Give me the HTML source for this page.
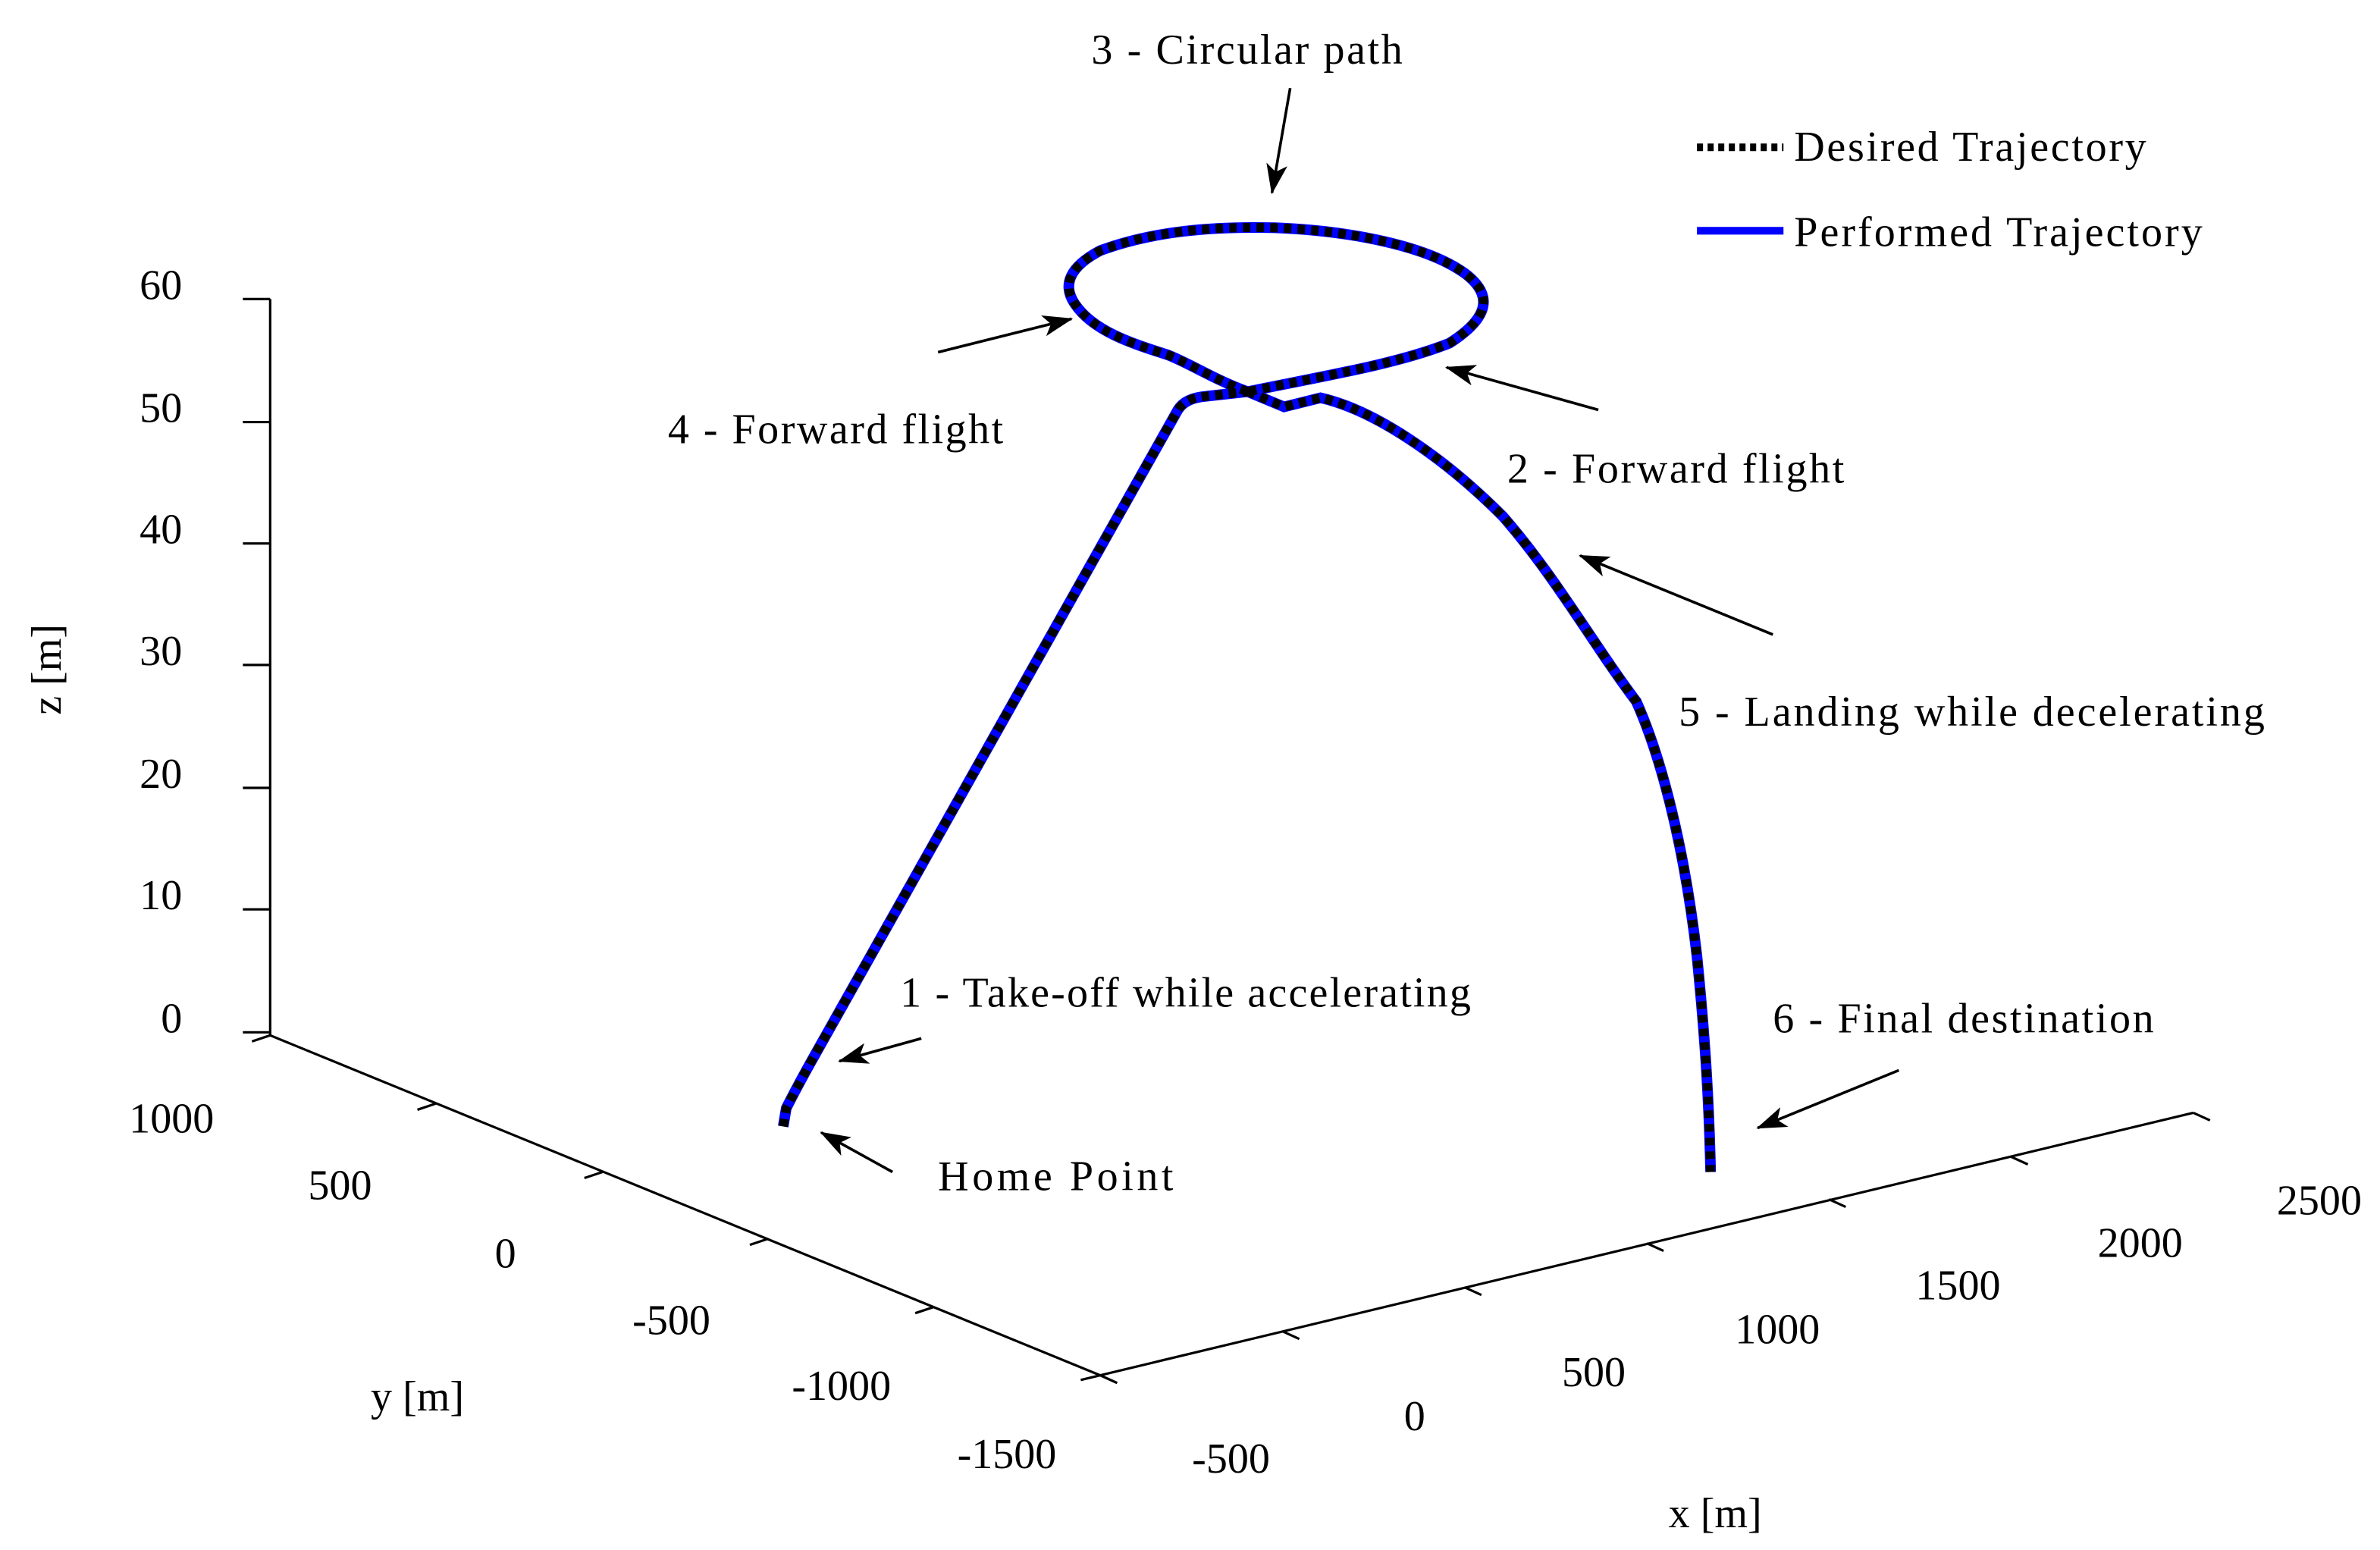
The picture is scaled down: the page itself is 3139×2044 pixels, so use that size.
<!DOCTYPE html>
<html><head><meta charset="utf-8"><style>html,body{margin:0;padding:0;background:#fff}svg{display:block}text{font-family:"Liberation Serif",serif;font-size:28px;fill:#000}</style></head>
<body>
<svg width="3139" height="2044" viewBox="0 0 1568 1021" xmlns="http://www.w3.org/2000/svg">
<defs><marker id="ah" markerWidth="20" markerHeight="14" refX="19" refY="7" orient="auto" markerUnits="userSpaceOnUse"><path d="M0,0 L20,7 L0,14 L5,7 Z" fill="#000"/></marker></defs>
<g stroke="#000" stroke-width="1.6" fill="none">
<line x1="178" y1="197" x2="178" y2="682"/>
<line x1="178" y1="682" x2="725" y2="906"/>
<line x1="712" y1="909" x2="1445" y2="733"/>
<path d="M160,197H178M160,278H178M160,358H178M160,438H178M160,519H178M160,599H178M160,680H178"/>
<path d="M178,682l-12,4M287,727l-12,4M397,772l-12,4M506,816l-12,4M615,861l-12,4"/>
<path d="M725,906l11,5M845,877l11,5M965,848l11,5M1085,819l11,5M1205,790l11,5M1325,762l11,5M1445,733l11,5"/>
</g>
<g text-anchor="end"><text x="120" y="197">60</text><text x="120" y="278">50</text><text x="120" y="358">40</text><text x="120" y="438">30</text><text x="120" y="519">20</text><text x="120" y="599">10</text><text x="120" y="680">0</text>
<text x="141" y="746">1000</text><text x="245" y="790">500</text><text x="340" y="835">0</text><text x="468" y="879">-500</text><text x="587" y="922">-1000</text><text x="696" y="967">-1500</text></g>
<g text-anchor="middle"><text x="811" y="970">-500</text><text x="932" y="942">0</text><text x="1050" y="913">500</text><text x="1171" y="885">1000</text><text x="1290" y="856">1500</text><text x="1410" y="828">2000</text><text x="1528" y="800">2500</text>
<text x="275" y="929">y [m]</text><text x="1130" y="1006">x [m]</text><text transform="translate(40,441) rotate(-90)">z [m]</text></g>
<text x="719" y="42" textLength="205">3 - Circular path</text>
<text x="440" y="292" textLength="221">4 - Forward flight</text>
<text x="993" y="318" textLength="222">2 - Forward flight</text>
<text x="1106" y="478" textLength="386">5 - Landing while decelerating</text>
<text x="593" y="663" textLength="376">1 - Take-off while accelerating</text>
<text x="618" y="784" textLength="155">Home Point</text>
<text x="1168" y="680" textLength="251">6 - Final destination</text>
<text x="1182" y="106" textLength="232">Desired Trajectory</text>
<text x="1182" y="162" textLength="269">Performed Trajectory</text>
<line x1="1118" y1="97" x2="1175" y2="97" stroke="#000" stroke-width="5" stroke-dasharray="4,3"/>
<line x1="1118" y1="152" x2="1175" y2="152" stroke="#0000ff" stroke-width="5"/>
<g stroke="#000" stroke-width="1.8" fill="none" marker-end="url(#ah)">
<line x1="850" y1="58" x2="838" y2="127"/>
<line x1="618" y1="232" x2="706" y2="210"/>
<line x1="1053" y1="270" x2="953" y2="242"/>
<line x1="1168" y1="418" x2="1041" y2="366"/>
<line x1="607" y1="684" x2="553" y2="699"/>
<line x1="588" y1="772" x2="541" y2="746"/>
<line x1="1251" y1="705" x2="1158" y2="743"/>
</g>
<g fill="none" stroke-linejoin="round">
<path id="t1" d="M516,742 L518,730 Q524,718 534,700 L776,270 Q781,262 795,261 L822,258"/>
<path id="t2" d="M822,258 C800,250 785,240 770,234 C745,226 720,218 708,200 C700,188 704,176 725,165 C760,152 800,149 840,150 C890,152 940,162 965,180 C985,195 980,210 955,226 C920,240 870,248 822,258"/>
<path id="t3" d="M822,258 L846,268 L870,262 C905,270 950,300 990,340 C1025,380 1050,425 1078,462 C1095,500 1110,560 1118,630 C1124,690 1126,730 1127,772"/>
</g>
<g fill="none" stroke="#0000ff" stroke-width="7"><use href="#t1"/><use href="#t2"/><use href="#t3"/></g>
<g fill="none" stroke="#000" stroke-width="6" stroke-dasharray="5,4"><use href="#t1"/><use href="#t2"/><use href="#t3"/></g>
</svg>
</body></html>
